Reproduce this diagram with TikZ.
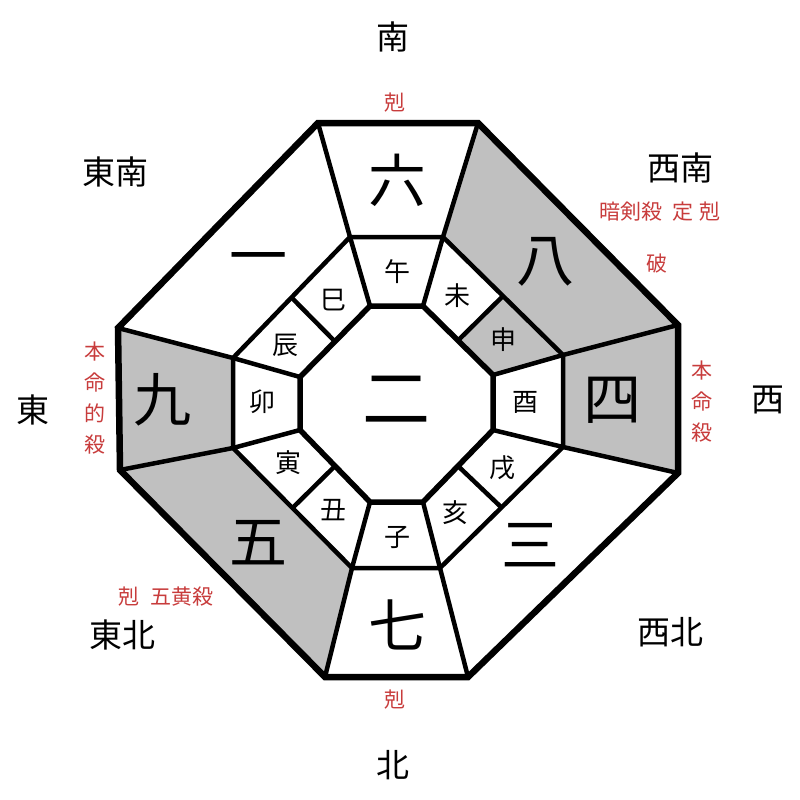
\documentclass[tikz,border=0pt]{standalone}
\usepackage{fontspec}
\setmainfont{Noto Sans CJK JP}
\usetikzlibrary{calc}
\definecolor{cellgray}{RGB}{192,192,192}
\definecolor{labred}{RGB}{200,60,60}
\tikzset{
  bignum/.style={font=\fontsize{58}{58}\selectfont, inner sep=0pt},
  branch/.style={font=\fontsize{26}{26}\selectfont, inner sep=0pt},
  dirtext/.style={font=\fontsize{33}{33}\selectfont, inner sep=0pt},
  labtext/.style={font=\fontsize{21}{31}\selectfont, text=labred, inner sep=0pt, align=center},
  outerline/.style={line width=6.5pt},
  innerline/.style={line width=4.5pt},
  grayfill/.style={fill=cellgray},
}
\begin{document}
\begin{tikzpicture}[x=1pt,y=-1pt]
\useasboundingbox (0,0) rectangle (800,800);
\fill[white] (0,0) rectangle (800,800);
% outer octagon
\coordinate (O1) at (318,123);
\coordinate (O2) at (478,123);
\coordinate (O3) at (678,325);
\coordinate (O4) at (678,473);
\coordinate (O5) at (468,677);
\coordinate (O6) at (325,677);
\coordinate (O7) at (120,470);
\coordinate (O8) at (118,328);
% middle octagon
\coordinate (M1) at (350,237);
\coordinate (M2) at (443,237);
\coordinate (M3) at (563,355);
\coordinate (M4) at (563,447);
\coordinate (M5) at (440,568);
\coordinate (M6) at (352,568);
\coordinate (M7) at (233,448);
\coordinate (M8) at (233,358);
% inner octagon
\coordinate (I1) at (370,306);
\coordinate (I2) at (423,306);
\coordinate (I3) at (493,375);
\coordinate (I4) at (493,430);
\coordinate (I5) at (423,502);
\coordinate (I6) at (370,502);
\coordinate (I7) at (300,430);
\coordinate (I8) at (300,377);
% midpoints
\coordinate (MA) at ($(M2)!0.5!(M3)$);
\coordinate (IA) at ($(I2)!0.5!(I3)$);
\coordinate (MB) at ($(M4)!0.5!(M5)$);
\coordinate (IB) at ($(I4)!0.5!(I5)$);
\coordinate (MC) at ($(M6)!0.5!(M7)$);
\coordinate (IC) at ($(I6)!0.5!(I7)$);
\coordinate (MD) at ($(M8)!0.5!(M1)$);
\coordinate (ID) at ($(I8)!0.5!(I1)$);
% gray cells
\fill[grayfill] (O2) -- (O3) -- (M3) -- (M2) -- cycle;
\fill[grayfill] (O3) -- (O4) -- (M4) -- (M3) -- cycle;
\fill[grayfill] (O6) -- (O7) -- (M7) -- (M6) -- cycle;
\fill[grayfill] (O7) -- (O8) -- (M8) -- (M7) -- cycle;
\fill[grayfill] (MA) -- (M3) -- (I3) -- (IA) -- cycle;
% lines
\draw[innerline] (M1) -- (M2) -- (M3) -- (M4) -- (M5) -- (M6) -- (M7) -- (M8) -- cycle;
\draw[innerline] (O1) -- (M1) -- (I1);
\draw[innerline] (O2) -- (M2) -- (I2);
\draw[innerline] (O3) -- (M3) -- (I3);
\draw[innerline] (O4) -- (M4) -- (I4);
\draw[innerline] (O5) -- (M5) -- (I5);
\draw[innerline] (O6) -- (M6) -- (I6);
\draw[innerline] (O7) -- (M7) -- (I7);
\draw[innerline] (O8) -- (M8) -- (I8);
\draw[innerline] (MA) -- (IA);
\draw[innerline] (MB) -- (IB);
\draw[innerline] (MC) -- (IC);
\draw[innerline] (MD) -- (ID);
\draw[line width=5.5pt] (I1) -- (I2) -- (I3) -- (I4) -- (I5) -- (I6) -- (I7) -- (I8) -- cycle;
\draw[outerline] (O1) -- (O2) -- (O3) -- (O4) -- (O5) -- (O6) -- (O7) -- (O8) -- cycle;
% big numbers
\node[bignum] (n6) at (397,180) {六};
\node[bignum] (n8) at (545,262) {八};
\node[bignum] (n1) at (258,265) {一};
\node[bignum] (n9) at (162,400) {九};
\node[bignum] (n4) at (612,400) {四};
\node[bignum] (n5) at (258,543) {五};
\node[bignum] (n3) at (530,545) {三};
\node[bignum] (n7) at (397,625) {七};
\node[font=\fontsize{68}{68}\selectfont, inner sep=0pt] (n2) at (396,400) {二};
% branches
\node[branch] (bwu) at (397,272) {午};
\node[branch] (bwei) at (457,296) {未};
\node[branch] (bshen) at (503,340) {申};
\node[branch] (byou) at (525,402) {酉};
\node[branch] (bxu) at (502,468) {戌};
\node[branch] (bhai) at (455,513) {亥};
\node[branch] (bzi) at (397,537) {子};
\node[branch] (bchou) at (333,510) {丑};
\node[branch] (byin) at (288,463) {寅};
\node[branch] (bmao) at (262,402) {卯};
\node[branch] (bchen) at (285,345) {辰};
\node[branch] (bsi) at (333,300) {巳};
% directions
\node[dirtext] (dS) at (393,37) {南};
\node[dirtext] (dN) at (393,765) {北};
\node[dirtext] (dE) at (33,410) {東};
\node[dirtext] (dW) at (768,400) {西};
\node[dirtext] (dSE) at (115,172) {東南};
\node[dirtext] (dSW) at (680,168) {西南};
\node[dirtext] (dNE) at (122,635) {東北};
\node[dirtext] (dNW) at (670,632) {西北};
% red labels
\node[labtext] (rS) at (395,103) {剋};
\node[labtext] (rN) at (395,700) {剋};
\node[labtext] (rSW) at (660,212) {暗剣殺\hspace{0.5em}定\hspace{0.3em}剋};
\node[labtext] (rSW2) at (657,264) {破};
\node[labtext] (rE) at (95,398) {本\\命\\的\\殺};
\node[labtext] (rW) at (702,402) {本\\命\\殺};
\node[labtext] (rNE) at (166,597) {剋\hspace{0.5em}五黄殺};
\end{tikzpicture}
\end{document}
